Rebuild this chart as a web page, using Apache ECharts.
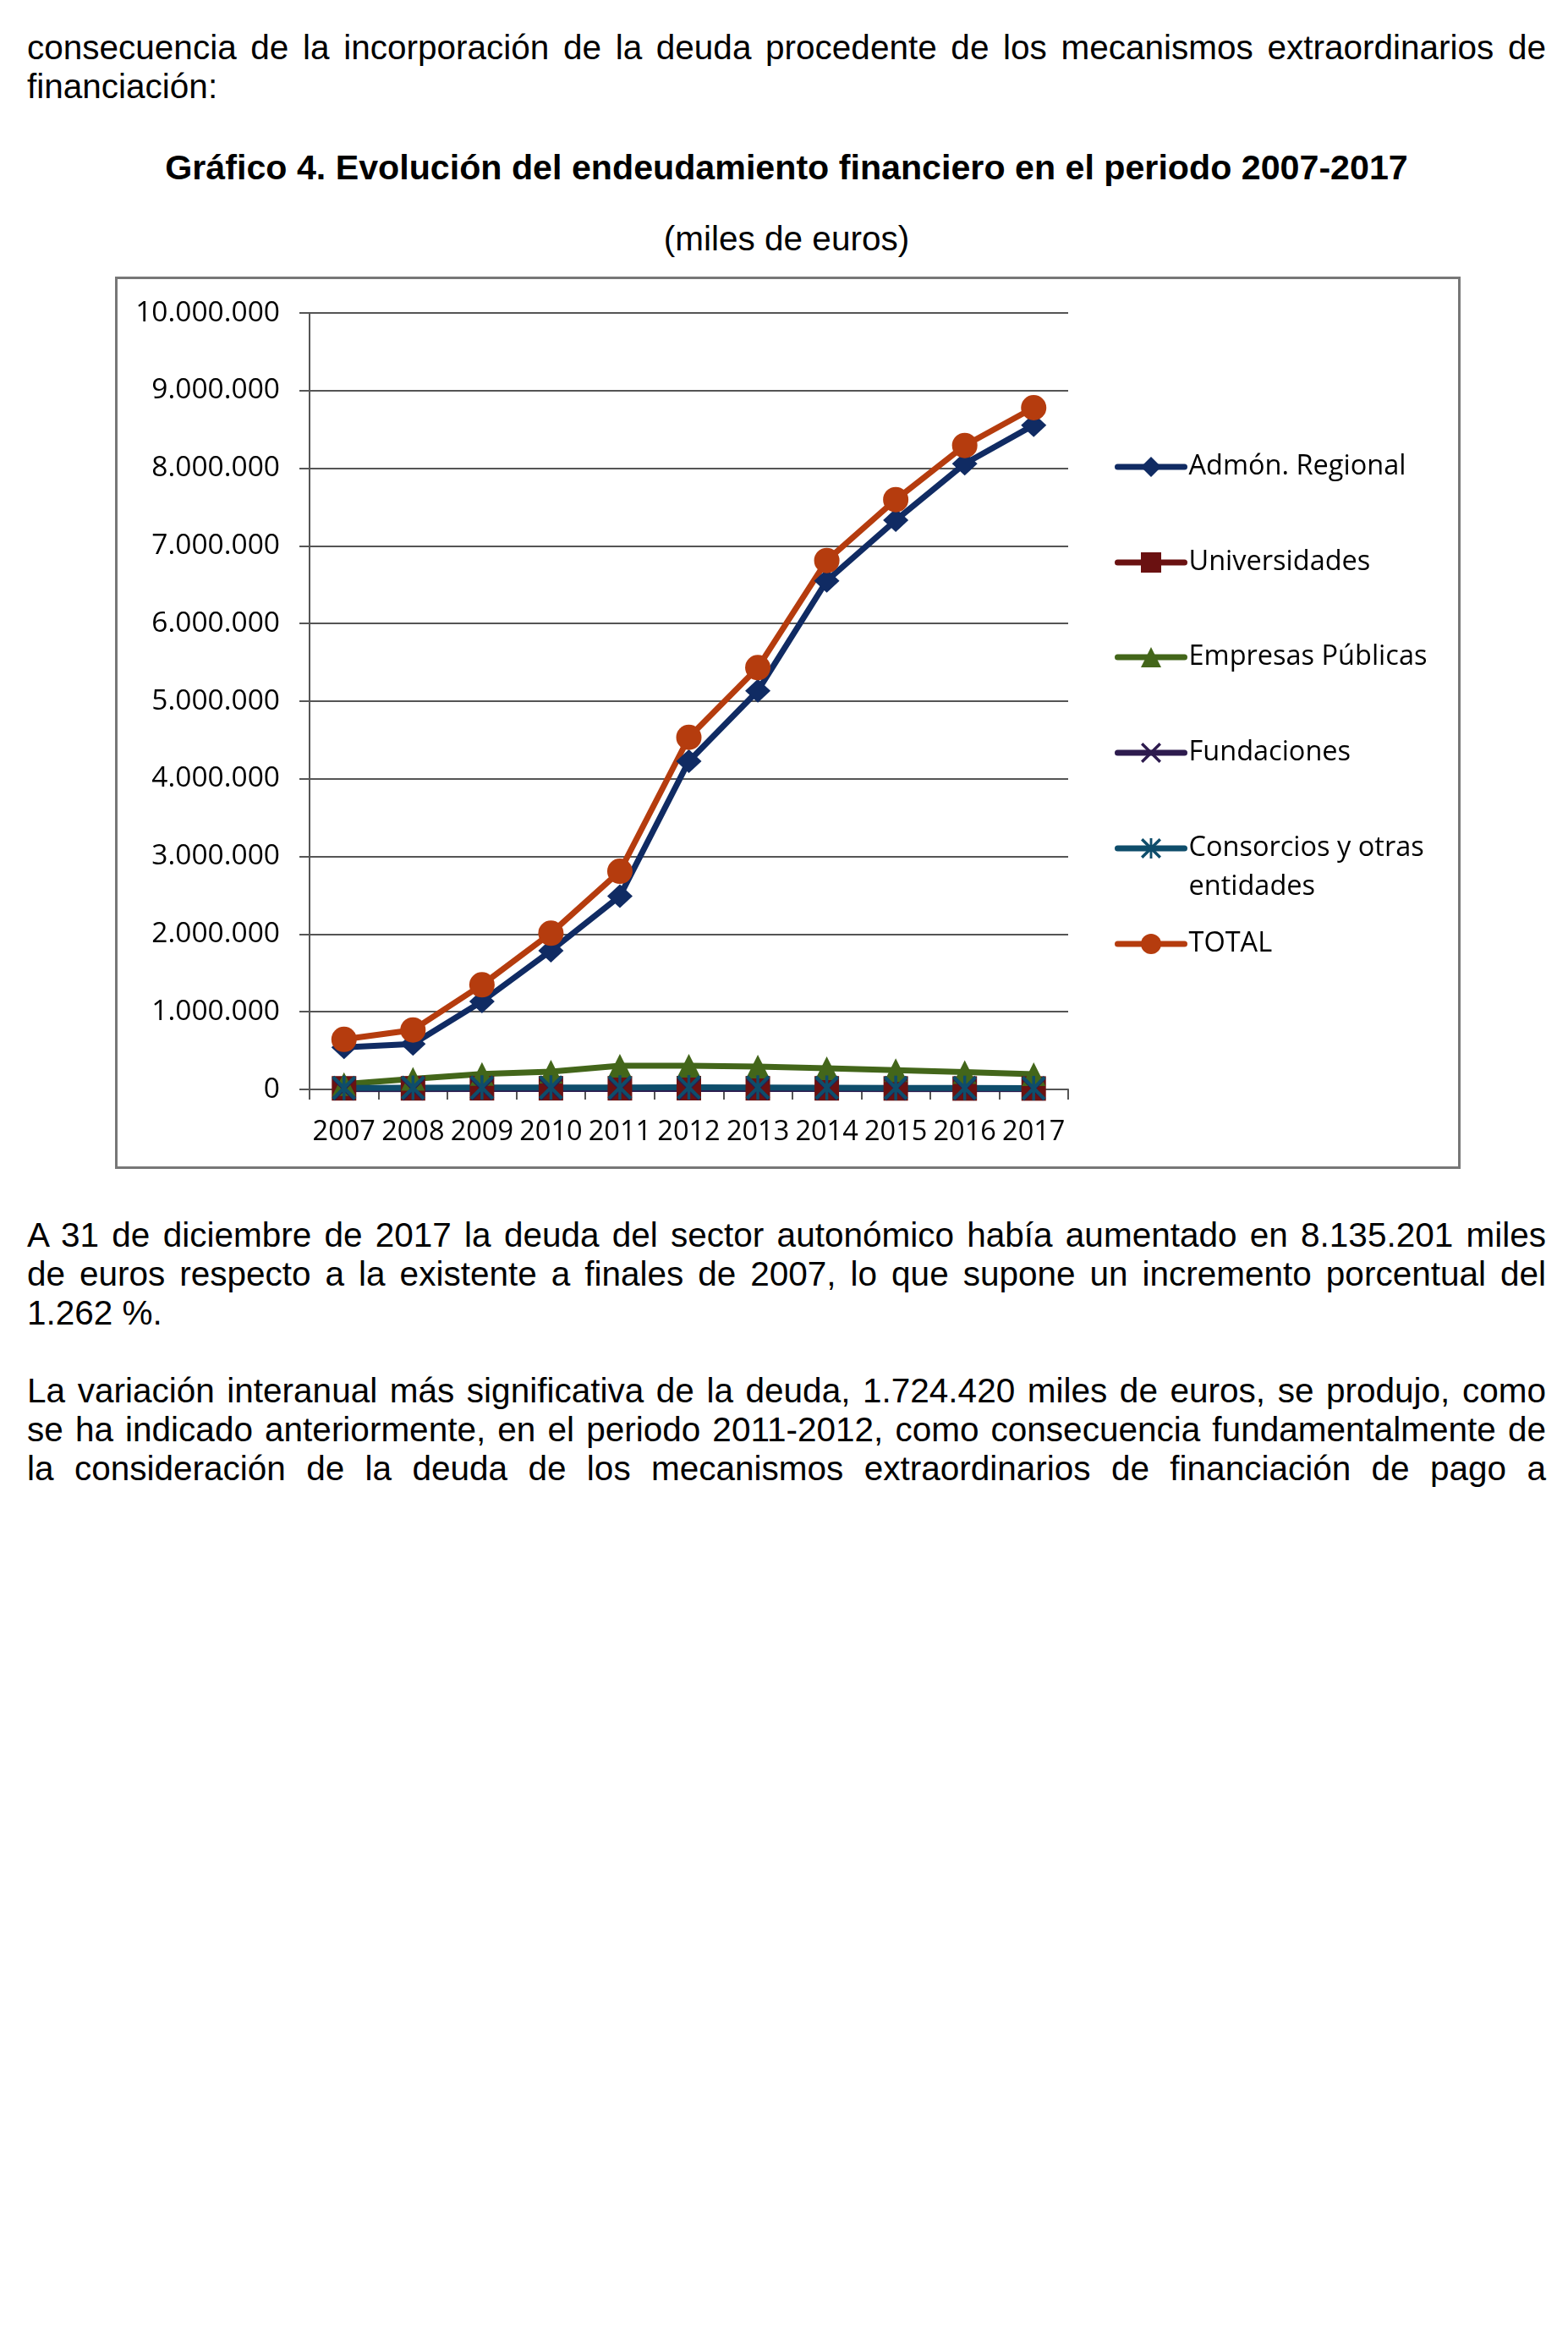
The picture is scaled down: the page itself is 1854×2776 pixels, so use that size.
<!DOCTYPE html>
<html><head><meta charset="utf-8">
<script src="https://cdn.jsdelivr.net/npm/echarts@6/dist/echarts.min.js"></script>
<style>
html,body{margin:0;padding:0;background:#fff;}
body{width:1854px;height:2776px;position:relative;overflow:hidden;font-family:"Liberation Sans",Arial,sans-serif;color:#000;}
.ln{position:absolute;left:32px;width:1796px;font-size:40.5px;line-height:46px;text-align:justify;text-align-last:justify;}
.ll{text-align-last:left;}
.ct{text-align:center;text-align-last:center;}
.b{font-weight:bold;font-size:41.2px;}
#chart{position:absolute;left:136px;top:327px;width:1591px;height:1055px;border:3px solid #777;box-sizing:border-box;}
</style></head>
<body>
<div class="ln" style="top:33px">consecuencia de la incorporación de la deuda procedente de los mecanismos extraordinarios de</div>
<div class="ln ll" style="top:79px">financiación:</div>
<div class="ln ct b" style="top:175px">Gráfico 4. Evolución del endeudamiento financiero en el periodo 2007-2017</div>
<div class="ln ct" style="top:259px">(miles de euros)</div>
<div id="chart"></div>
<div class="ln" style="top:1437px">A 31 de diciembre de 2017 la deuda del sector autonómico había aumentado en 8.135.201 miles</div>
<div class="ln" style="top:1483px">de euros respecto a la existente a finales de 2007, lo que supone un incremento porcentual del</div>
<div class="ln ll" style="top:1529px">1.262 %.</div>
<div class="ln" style="top:1621px">La variación interanual más significativa de la deuda, 1.724.420 miles de euros, se produjo, como</div>
<div class="ln" style="top:1667px">se ha indicado anteriormente, en el periodo 2011-2012, como consecuencia fundamentalmente de</div>
<div class="ln" style="top:1713px">la consideración de la deuda de los mecanismos extraordinarios de financiación de pago a</div>
<script>
const years = ['2007','2008','2009','2010','2011','2012','2013','2014','2015','2016','2017'];
const admonRegional = [541000, 585000, 1133000, 1786000, 2490000, 4227000, 5134000, 6550000, 7331000, 8058000, 8555000];
const universidades = [14000, 14000, 15000, 15000, 15000, 16000, 15000, 14000, 13000, 12000, 12000];
const empresasPublicas = [68000, 135000, 200000, 228000, 305000, 305000, 295000, 272000, 248000, 222000, 196000];
const fundaciones = [4000, 4000, 5000, 5000, 5000, 5000, 5000, 5000, 4000, 4000, 4000];
const consorcios = [20000, 22000, 24000, 25000, 25000, 26000, 25000, 22000, 20000, 18000, 15000];
const total = [644628, 766000, 1347000, 2012000, 2810000, 4534420, 5432000, 6812000, 7596000, 8293000, 8779829];
const seriesNames = ['Admón. Regional','Universidades','Empresas Públicas','Fundaciones','Consorcios y otras entidades','TOTAL'];

const X_PATH = 'path://M0,1 L1,0 L5,4 L9,0 L10,1 L6,5 L10,9 L9,10 L5,6 L1,10 L0,9 L4,5 Z';
const AST_PATH = 'path://M0,1 L1,0 L5,4 L9,0 L10,1 L6,5 L10,9 L9,10 L5,6 L1,10 L0,9 L4,5 Z M4.4,0 L5.6,0 L5.6,10 L4.4,10 Z';

function fmt(v){ return String(Math.round(v)).replace(/\B(?=(\d{3})+(?!\d))/g,'.'); }

function mk(name, data, color, symbol, size){
  return {name:name, type:'line', data:data, symbol:symbol, symbolSize:size, showSymbol:true,
    lineStyle:{color:color, width:7, cap:'round', join:'round'}, itemStyle:{color:color},
    emphasis:{disabled:true}, silent:true};
}

const chart = echarts.init(document.getElementById('chart'), null, {renderer:'canvas'});
const legendCenters = [222, 335, 447, 560, 673, 786];
const legendColors = ['#102B63','#6A1111','#43661A','#2D1B4E','#0E4D6B','#B53C0E'];
const legends = seriesNames.map(function(nm, i){
  const two = (i === 4);
  return {
    data:[nm], orient:'vertical', left:1179, top: two ? legendCenters[i]-69 : legendCenters[i]-20,
    padding:0, itemWidth:79, itemHeight:30, itemGap:0, selectedMode:false,
    formatter: two ? ' \nConsorcios y otras\nentidades' : '{name}',
    lineStyle:{width:7, color:legendColors[i], cap:'round'},
    textStyle:{fontFamily:'Open Sans', fontSize:32.5, color:'#000', lineHeight: two ? 46 : 40}
  };
});

chart.setOption({
  animation:false,
  grid:{left:227, top:40, width:897, height:918, containLabel:false},
  legend: legends,
  xAxis:{type:'category', data:years, boundaryGap:true,
    axisLine:{show:true, lineStyle:{color:'#555', width:2}},
    axisTick:{show:true, length:12, lineStyle:{color:'#555', width:2}},
    axisLabel:{color:'#000', fontFamily:'Open Sans', fontSize:32.5, margin:34, interval:0},
    splitLine:{show:false}},
  yAxis:{type:'value', min:0, max:10000000, interval:1000000,
    axisLine:{show:true, lineStyle:{color:'#555', width:2}},
    axisTick:{show:true, length:12, lineStyle:{color:'#555', width:2}},
    axisLabel:{color:'#000', fontFamily:'Open Sans', fontSize:33.5, margin:35, formatter:fmt},
    splitLine:{show:true, lineStyle:{color:'#555', width:2}}},
  series:[
    mk(seriesNames[0], admonRegional, '#102B63', 'diamond', [30,28]),
    mk(seriesNames[1], universidades, '#6A1111', 'rect', 29),
    mk(seriesNames[2], empresasPublicas, '#43661A', 'triangle', 28),
    mk(seriesNames[3], fundaciones, '#2D1B4E', X_PATH, 27),
    mk(seriesNames[4], consorcios, '#0E4D6B', AST_PATH, 29),
    mk(seriesNames[5], total, '#B53C0E', 'circle', 30)
  ]
});
</script>
</body></html>
